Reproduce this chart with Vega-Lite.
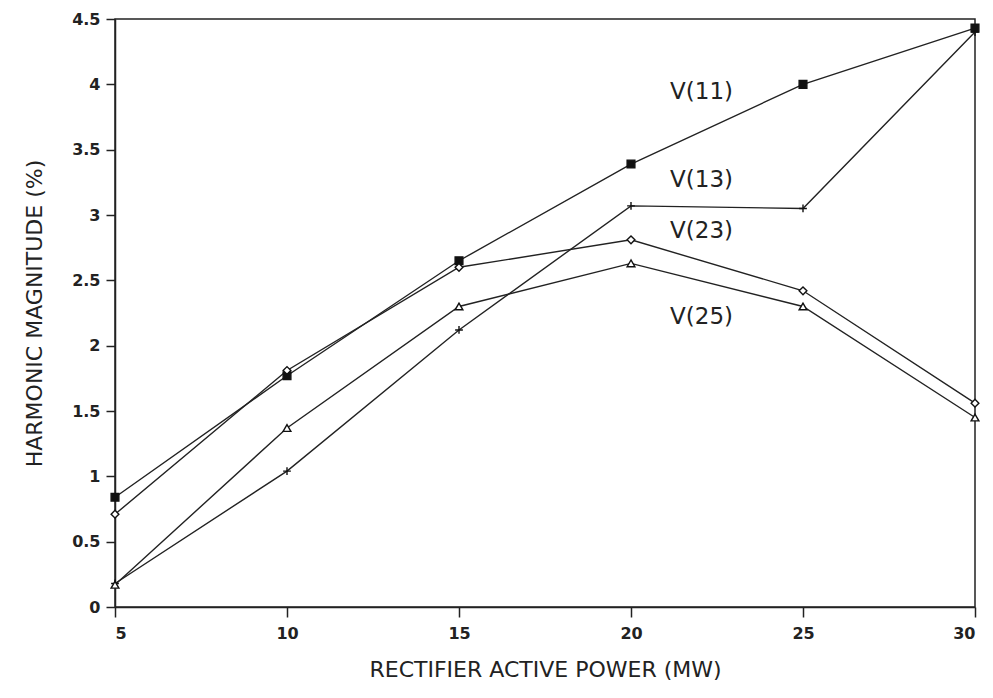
{
  "$schema": "https://vega.github.io/schema/vega-lite/v6.json",
  "width": 860,
  "height": 588,
  "autosize": "none",
  "padding": {"left": 115, "top": 19, "right": 18, "bottom": 91},
  "background": "white",
  "config": {
    "view": {"stroke": "#222", "strokeWidth": 1.5}
  },
  "data": {"values": [
    {"p": 5, "v": 0.84, "s": "V(11)"}, {"p": 10, "v": 1.77, "s": "V(11)"}, {"p": 15, "v": 2.65, "s": "V(11)"}, {"p": 20, "v": 3.39, "s": "V(11)"}, {"p": 25, "v": 4.0, "s": "V(11)"}, {"p": 30, "v": 4.43, "s": "V(11)"},
    {"p": 5, "v": 0.18, "s": "V(13)"}, {"p": 10, "v": 1.04, "s": "V(13)"}, {"p": 15, "v": 2.12, "s": "V(13)"}, {"p": 20, "v": 3.07, "s": "V(13)"}, {"p": 25, "v": 3.05, "s": "V(13)"}, {"p": 30, "v": 4.4, "s": "V(13)"},
    {"p": 5, "v": 0.71, "s": "V(23)"}, {"p": 10, "v": 1.81, "s": "V(23)"}, {"p": 15, "v": 2.6, "s": "V(23)"}, {"p": 20, "v": 2.81, "s": "V(23)"}, {"p": 25, "v": 2.42, "s": "V(23)"}, {"p": 30, "v": 1.56, "s": "V(23)"},
    {"p": 5, "v": 0.17, "s": "V(25)"}, {"p": 10, "v": 1.37, "s": "V(25)"}, {"p": 15, "v": 2.3, "s": "V(25)"}, {"p": 20, "v": 2.63, "s": "V(25)"}, {"p": 25, "v": 2.3, "s": "V(25)"}, {"p": 30, "v": 1.45, "s": "V(25)"}
  ]},
  "encoding": {
    "x": {"field": "p", "type": "quantitative", "scale": {"domain": [5, 30], "nice": false, "zero": false},
      "axis": {"values": [5, 10, 15, 20, 25, 30], "title": "RECTIFIER ACTIVE POWER (MW)", "grid": false,
        "domainColor": "#222", "domainWidth": 1.5, "tickColor": "#222", "tickWidth": 1.5, "tickSize": 10,
        "labelFont": "DejaVu Sans", "labelFontSize": 16, "labelFontWeight": "bold", "labelColor": "#222", "labelPadding": 8,
        "titleFont": "DejaVu Sans", "titleFontSize": 22, "titleFontWeight": "normal", "titleColor": "#222", "titlePadding": 18}},
    "y": {"field": "v", "type": "quantitative", "scale": {"domain": [0, 4.5], "nice": false},
      "axis": {"values": [0, 0.5, 1, 1.5, 2, 2.5, 3, 3.5, 4, 4.5], "format": "~g", "title": "HARMONIC MAGNITUDE (%)", "grid": false,
        "domainColor": "#222", "domainWidth": 1.5, "tickColor": "#222", "tickWidth": 1.5, "tickSize": 9,
        "labelFont": "DejaVu Sans", "labelFontSize": 16, "labelFontWeight": "bold", "labelColor": "#222", "labelPadding": 6,
        "titleFont": "DejaVu Sans", "titleFontSize": 22, "titleFontWeight": "normal", "titleColor": "#222", "titlePadding": 25}}
  },
  "layer": [
    {"mark": {"type": "line", "color": "#222", "strokeWidth": 1.4}, "encoding": {"detail": {"field": "s"}}},
    {"mark": {"type": "point", "size": 60, "strokeWidth": 1.4, "opacity": 1},
      "encoding": {
        "shape": {"field": "s", "type": "nominal", "legend": null, "scale": {"domain": ["V(11)", "V(13)", "V(23)", "V(25)"], "range": ["square", "M-1,0L1,0M0,-1L0,1", "diamond", "triangle-up"]}},
        "fill": {"field": "s", "type": "nominal", "legend": null, "scale": {"domain": ["V(11)", "V(13)", "V(23)", "V(25)"], "range": ["#111", "transparent", "white", "white"]}},
        "stroke": {"value": "#111"}
      }},
    {"data": {"values": [
      {"p": 22.05, "v": 3.94, "t": "V(11)"}, {"p": 22.05, "v": 3.27, "t": "V(13)"}, {"p": 22.05, "v": 2.88, "t": "V(23)"}, {"p": 22.05, "v": 2.22, "t": "V(25)"}
    ]},
      "mark": {"type": "text", "fontSize": 23, "font": "DejaVu Sans", "color": "#222"},
      "encoding": {"text": {"field": "t"}}}
  ]
}
